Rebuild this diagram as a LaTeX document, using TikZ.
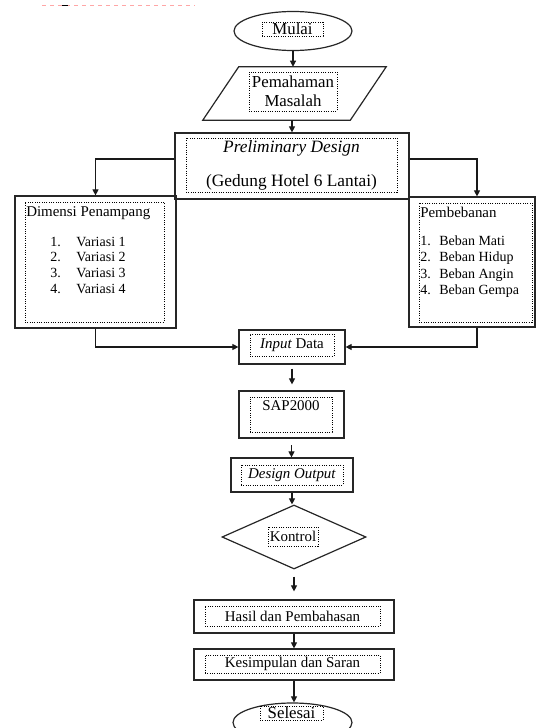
\documentclass[tikz,border=0pt]{standalone}
\usepackage{fontspec}
\setmainfont{Liberation Serif}
\usetikzlibrary{arrows.meta, shapes.geometric}

\begin{document}
\begin{tikzpicture}[x=0.75pt, y=-0.75pt,
    font=\fontsize{11.2}{13.4}\selectfont,
    outerbox/.style={draw, black!85, line width=0.9pt, inner sep=0pt},
    dotbox/.style={draw, densely dotted, line width=0.75pt, inner sep=0pt, align=center, text=black},
    bigfont/.style={font=\fontsize{12.6}{14.25}\selectfont},
    listfont/.style={font=\fontsize{10.5}{11.8}\selectfont},
    flow/.style={-{Triangle[length=4.5pt, width=4.5pt]}, line width=0.8pt, black!90}]

    \useasboundingbox (0,0) rectangle (536,728);

    % ===== Top margin mark =====
    \draw[red!35, dashed, line width=1.2pt] (42,5.5) -- (195,5.5);
    \draw[black, line width=1.2pt] (62,5.5) -- (68,5.5);

    % ===== Start =====
    \node[outerbox, ellipse, minimum width=88.5pt, minimum height=29.25pt] (mulai) at (293,31) {};
    \node[dotbox, bigfont, minimum width=45.75pt, minimum height=10.5pt] (mulaitxt) at (292.5,29) {Mulai};

    % Problem statement (parallelogram, slant of 18px each side)
    \node[inner sep=0pt, minimum width=110.25pt, minimum height=39.75pt] (masalah) at (294.5,93.5) {};
    \draw[black!85, line width=0.9pt, line join=miter]
        ([xshift=13.5pt]masalah.north west) -- ([xshift=13.5pt]masalah.north east)
        -- ([xshift=-13.5pt]masalah.south east) -- ([xshift=-13.5pt]masalah.south west) -- cycle;
    \node[dotbox, bigfont, minimum width=66pt, minimum height=29.25pt] (masalahtxt) at (293,91.5) {Pemahaman\\Masalah};

    % ===== Preliminary design =====
    \node[outerbox, minimum width=175.5pt, minimum height=49.5pt] (prelim) at (292,166) {};
    \node[dotbox, font=\fontsize{13}{15.6}\selectfont, minimum width=158.25pt, minimum height=40.5pt] (prelimtxt) at (291.5,165)
        {\textit{Preliminary Design}\\[10pt](Gedung Hotel 6 Lantai)};

    % ===== Left branch: cross sections =====
    \node[outerbox, minimum width=120.75pt, minimum height=99pt] (dimensi) at (95.5,262) {};
    \node[dotbox, minimum width=104.25pt, minimum height=90pt] (dimensiin) at (94.5,262) {};
    \node[anchor=base west, inner sep=0pt] (dimensijudul) at (26,216) {Dimensi Penampang};
    \node[listfont, anchor=base west, inner sep=0pt] (variasi) at (50,246)
        {\begin{tabular}[t]{@{}p{19.5pt}@{}l@{}}1. & Variasi 1\\2. & Variasi 2\\3. & Variasi 3\\4. & Variasi 4\end{tabular}};

    % ===== Right branch: loads =====
    \node[outerbox, minimum width=94.5pt, minimum height=97.5pt] (beban) at (472,262) {};
    \node[dotbox, minimum width=84.75pt, minimum height=89.25pt] (bebanin) at (475.5,262.5) {};
    \node[anchor=base west, inner sep=0pt] (bebanjudul) at (420,217) {Pembebanan};
    \node[font=\fontsize{10.5}{12.4}\selectfont, anchor=base west, inner sep=0pt] (bebanlist) at (420,245)
        {\begin{tabular}[t]{@{}p{14.25pt}@{}l@{}}1. & Beban Mati\\2. & Beban Hidup\\3. & Beban Angin\\4. & Beban Gempa\end{tabular}};

    % ===== Analysis column =====
    \node[outerbox, minimum width=79.5pt, minimum height=25.5pt] (input) at (292,347) {};
    \node[dotbox, minimum width=63pt, minimum height=16.5pt] (inputtxt) at (292,345) {\textit{Input} Data};

    \node[outerbox, minimum width=78.75pt, minimum height=35.25pt] (sap) at (291.5,414.5) {};
    \node[dotbox, minimum width=61.5pt, minimum height=26.25pt] (sapin) at (291,414.5) {};
    \node[anchor=base, inner sep=0pt] (saptxt) at (291,410) {SAP2000};

    \node[outerbox, minimum width=91.5pt, minimum height=25.5pt] (design) at (292,475) {};
    \node[dotbox, minimum width=76.5pt, minimum height=15pt] (designtxt) at (292,475) {\textit{Design Output}};

    % Check (diamond)
    \node[outerbox, diamond, minimum width=108pt, minimum height=48pt] (kontrol) at (294,537) {};
    \node[dotbox, minimum width=37.5pt, minimum height=14.25pt] (kontroltxt) at (293,536.5) {Kontrol};

    \node[outerbox, minimum width=150pt, minimum height=24.75pt] (hasil) at (294,616.5) {};
    \node[dotbox, minimum width=131.25pt, minimum height=15pt] (hasiltxt) at (292.5,616) {Hasil dan Pembahasan};

    \node[outerbox, minimum width=150pt, minimum height=23.25pt] (simpul) at (294,664.5) {};
    \node[dotbox, minimum width=131.25pt, minimum height=13.5pt] (simpultxt) at (292.5,664) {Kesimpulan dan Saran};

    % ===== End =====
    \node[outerbox, ellipse, minimum width=89.25pt, minimum height=29.25pt] (selesai) at (292.5,722.5) {};
    \node[dotbox, bigfont, minimum width=47.25pt, minimum height=10.5pt] (selesaitxt) at (291.5,713) {Selesai};

    % ===== Connectors =====
    \draw[flow] (mulai.south) -- (mulai.south |- masalah.north);
    \draw[flow] (prelim.north |- masalah.south) -- (prelim.north);
    \draw[flow] ([yshift=5.25pt]prelim.west) -| (dimensi.north);
    \draw[flow] ([yshift=5.25pt]prelim.east) -| ([xshift=3.75pt]beban.north);
    \draw[flow] (dimensi.south) |- (input.west);
    \draw[flow] ([xshift=3.75pt]beban.south) |- (input.east);
    \draw[flow, shorten <=3pt, shorten >=4.5pt] (input.south) -- (input.south |- sap.north);
    \draw[flow, shorten <=5pt] (sap.south) -- (sap.south |- design.north);
    \draw[flow] (design.south) -- (design.south |- kontrol.north);
    \draw[flow, shorten <=5.25pt, shorten >=6pt] (kontrol.south) -- (kontrol.south |- hasil.north);
    \draw[flow] (hasil.south) -- (simpul.north);
    \draw[flow] (simpul.south) -- (simpul.south |- selesai.north);

\end{tikzpicture}
\end{document}
